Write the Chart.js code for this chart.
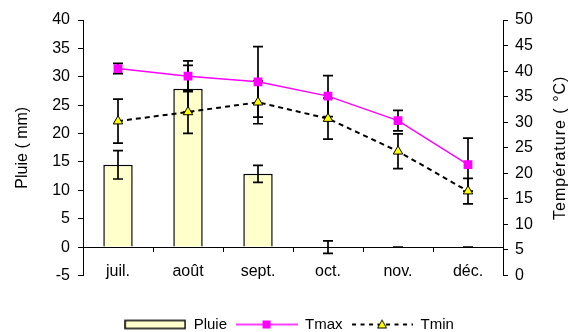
<!DOCTYPE html>
<html><head><meta charset="utf-8">
<script src="https://cdn.jsdelivr.net/npm/chart.js@4/dist/chart.umd.min.js"></script>
<style>html,body{margin:0;padding:0;background:#fff;}</style>
</head><body>
<canvas id="c" width="568" height="332"></canvas>
<script>
// ---- data ----
const months = ['juil.', 'août', 'sept.', 'oct.', 'nov.', 'déc.'];
const pluie = [14.5, 27.9, 12.9, 0, 0, 0];
const pluieErr = [2.5, 4.1, 1.5, 1.1, 0, 0];
const tmax = [40.5, 39.0, 37.9, 35.1, 30.3, 21.7];
const tmaxErr = [1.0, 3.0, 6.9, 4.0, 2.0, 5.2];
const tmin = [30.2, 32.0, 33.9, 30.7, 24.3, 16.5];
const tminErr = [4.3, 4.2, 4.2, 4.0, 3.4, 2.5];
const leftTicks = [-5, 0, 5, 10, 15, 20, 25, 30, 35, 40];
const rightTicks = [0, 5, 10, 15, 20, 25, 30, 35, 40, 45, 50];
const seriesNames = ['Pluie', 'Tmax', 'Tmin'];
const leftTitle = 'Pluie ( mm)';
const rightTitle = 'Température ( °C)';

const FONT = "'Liberation Sans', Arial, sans-serif";
const BAR_FILL = '#FFFFCC';
const TMAX_COL = '#FF00FF';
const TMIN_FILL = '#FFFF00';

function legendImg(kind) {
  const c = document.createElement('canvas');
  c.width = 62; c.height = 12;
  const g = c.getContext('2d');
  if (kind === 0) {
    g.fillStyle = BAR_FILL; g.fillRect(1, 2, 60, 8);
    g.strokeStyle = '#000'; g.lineWidth = 1.5; g.strokeRect(1, 2, 60, 8);
  } else if (kind === 1) {
    g.strokeStyle = TMAX_COL; g.lineWidth = 1.5;
    g.beginPath(); g.moveTo(0, 6); g.lineTo(62, 6); g.stroke();
    g.fillStyle = TMAX_COL; g.fillRect(27, 2, 8, 8);
  } else {
    g.strokeStyle = '#000'; g.lineWidth = 2; g.setLineDash([4, 4.5]);
    g.beginPath(); g.moveTo(1, 6); g.lineTo(62, 6); g.stroke();
    g.setLineDash([]);
    g.fillStyle = TMIN_FILL; g.lineWidth = 1;
    g.beginPath(); g.moveTo(31, 1.5); g.lineTo(35.5, 9.5); g.lineTo(26.5, 9.5); g.closePath();
    g.fill(); g.stroke();
  }
  return c;
}
const legendImgs = [legendImg(0), legendImg(1), legendImg(2)];

const errorPlugin = {
  id: 'errbars',
  afterDatasetDraw(chart, args) {
    if (args.index !== 0) return;
    const ctx = chart.ctx;
    const sets = [
      {di: 0, vals: pluie, errs: pluieErr, scale: chart.scales.y},
      {di: 1, vals: tmax, errs: tmaxErr, scale: chart.scales.y2},
      {di: 2, vals: tmin, errs: tminErr, scale: chart.scales.y2}
    ];
    ctx.save();
    ctx.strokeStyle = '#000';
    ctx.lineWidth = 1.7;
    sets.forEach(s => {
      const meta = chart.getDatasetMeta(s.di);
      meta.data.forEach((el, i) => {
        const x = el.x;
        const yTop = s.scale.getPixelForValue(s.vals[i] + s.errs[i]);
        const yBot = s.scale.getPixelForValue(s.vals[i] - s.errs[i]);
        ctx.beginPath();
        ctx.moveTo(x, yTop); ctx.lineTo(x, yBot);
        ctx.moveTo(x - 5, yTop); ctx.lineTo(x + 5, yTop);
        ctx.moveTo(x - 5, yBot); ctx.lineTo(x + 5, yBot);
        ctx.stroke();
      });
    });
    ctx.restore();
  },
  afterDraw(chart) {
    const ctx = chart.ctx;
    const ca = chart.chartArea;
    const s = chart.scales.y2;
    ctx.save();
    ctx.fillStyle = '#000';
    ctx.font = '16px ' + FONT;
    if ('letterSpacing' in ctx) ctx.letterSpacing = '1px';
    ctx.textAlign = 'center';
    ctx.textBaseline = 'middle';
    ctx.translate(s.right - 7, (ca.top + ca.bottom) / 2);
    ctx.rotate(-Math.PI / 2);
    ctx.fillText(rightTitle, 0, 0);
    ctx.restore();
  }
};

new Chart(document.getElementById('c'), {
  data: {
    labels: months,
    datasets: [
      {type: 'bar', label: seriesNames[0], data: pluie, yAxisID: 'y', order: 3,
       backgroundColor: BAR_FILL, borderColor: '#000', borderWidth: 1.5,
       barPercentage: 0.42, categoryPercentage: 1},
      {type: 'line', label: seriesNames[1], data: tmax, yAxisID: 'y2', order: 1,
       borderColor: TMAX_COL, borderWidth: 1.5, pointStyle: 'rect', pointRadius: 6.2,
       pointBackgroundColor: TMAX_COL, pointBorderColor: TMAX_COL, pointBorderWidth: 0, tension: 0},
      {type: 'line', label: seriesNames[2], data: tmin, yAxisID: 'y2', order: 2,
       borderColor: '#000', borderWidth: 2, borderDash: [5, 4], pointStyle: 'triangle', pointRadius: 5.5,
       pointBackgroundColor: TMIN_FILL, pointBorderColor: '#000', pointBorderWidth: 1, tension: 0}
    ]
  },
  options: {
    responsive: false,
    animation: false,
    devicePixelRatio: 1,
    layout: {padding: {top: 20, bottom: -10, left: 10, right: 0}},
    plugins: {
      tooltip: {enabled: false},
      legend: {
        position: 'bottom',
        align: 'center',
        title: {display: true, text: ' ', font: {size: 10}, padding: {top: 21, bottom: 0}},
        labels: {
          usePointStyle: true,
          pointStyleWidth: 62,
          padding: 8.5,
          color: '#000',
          font: {family: FONT, size: 15},
          generateLabels: () => seriesNames.map((n, i) => ({
            text: n, pointStyle: legendImgs[i], datasetIndex: i, hidden: false,
            fillStyle: 'transparent', strokeStyle: 'transparent', lineWidth: 0, fontColor: '#000'
          }))
        }
      }
    },
    scales: {
      x: {
        type: 'category',
        position: {y: 0},
        offset: true,
        grid: {display: true, offset: true, drawOnChartArea: false, drawTicks: true, tickLength: 4, color: '#000', lineWidth: 1},
        border: {display: true, color: '#000', width: 1},
        ticks: {color: '#000', font: {family: FONT, size: 16}, padding: 11, maxRotation: 0, autoSkip: false}
      },
      y: {
        position: 'left',
        min: leftTicks[0], max: leftTicks[leftTicks.length - 1],
        afterBuildTicks: sc => { sc.ticks = leftTicks.map(v => ({value: v})); },
        afterFit: sc => { sc.width = 73; },
        grid: {display: true, drawOnChartArea: false, drawTicks: true, tickLength: 5, color: '#000'},
        border: {display: true, color: '#000', width: 1},
        ticks: {color: '#000', font: {family: FONT, size: 16}, padding: 8},
        title: {display: true, text: leftTitle, color: '#000', font: {family: FONT, size: 16}, padding: {top: 3, bottom: 0}}
      },
      y2: {
        position: 'right',
        min: rightTicks[0], max: rightTicks[rightTicks.length - 1],
        afterBuildTicks: sc => { sc.ticks = rightTicks.map(v => ({value: v})); },
        afterFit: sc => { sc.width = 65; },
        grid: {display: true, drawOnChartArea: false, drawTicks: true, tickLength: 5, color: '#000'},
        border: {display: true, color: '#000', width: 1},
        ticks: {color: '#000', font: {family: FONT, size: 16}, padding: 7}
      }
    }
  },
  plugins: [errorPlugin]
});
</script>
</body></html>
